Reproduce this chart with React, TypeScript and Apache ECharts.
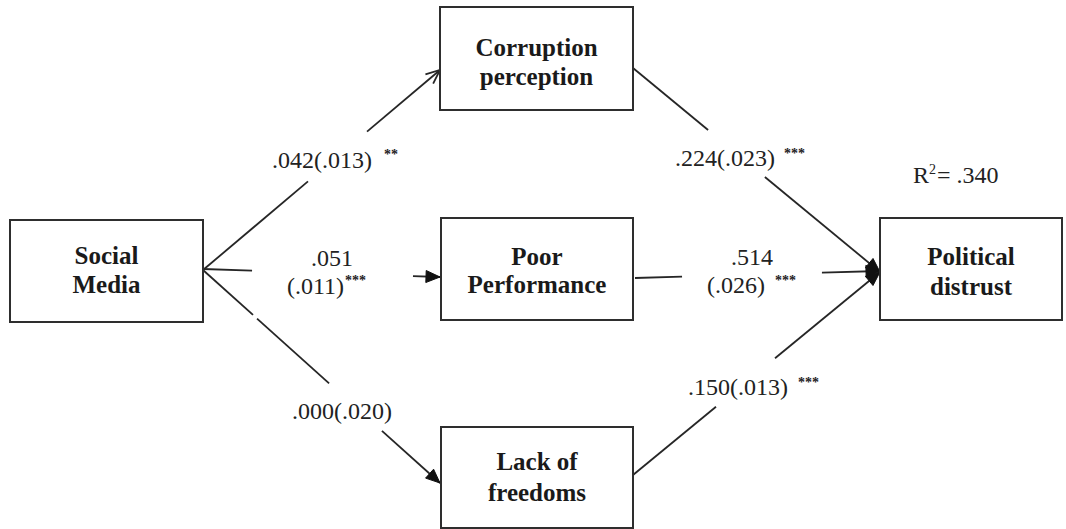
import React, { useEffect, useRef } from "react";
import * as echarts from "echarts";

// ---- Data ----
const nodeLabels: string[][] = [
  ["Social", "Media"],
  ["Corruption", "perception"],
  ["Poor", "Performance"],
  ["Lack of", "freedoms"],
  ["Political", "distrust"],
];
// box corners [x0, y0, x1, y1] in diagram units
const nodeBoxes: number[][] = [
  [10, 220, 203, 322],
  [440, 7, 633, 110],
  [441, 218, 633, 320],
  [441, 427, 633, 528],
  [880, 218, 1062, 320],
];
const nodeLineY: number[][] = [
  [255, 284],
  [47, 76],
  [256, 284],
  [461, 492],
  [256, 286],
];

// edges [fromX, fromY, toX, toY]
const edges: number[][] = [
  [203, 270, 440, 70],
  [203, 269, 440, 277],
  [203, 270, 440, 483],
  [633, 68, 880, 272],
  [635, 278, 880, 271],
  [633, 475, 880, 272],
];
const edgeGaps: number[][][] = [
  [[0.443, 0.692]],
  [[0.207, 0.886]],
  [[0.211, 0.228], [0.532, 0.755]],
  [[0.304, 0.534]],
  [[0.192, 0.763]],
  [[0.336, 0.575]],
];
const edgeHeads: string[] = ["open", "filled", "filled", "filled", "filled", "filled"];

// path coefficient labels
const coefTexts: string[] = [".042(.013)", ".051", "(.011)", ".000(.020)", ".224(.023)", ".514", "(.026)", ".150(.013)"];
const coefPos: number[][] = [
  [272, 160], [332, 258], [287, 286], [292, 411], [675, 158], [752, 257], [707, 285], [688, 387],
];
const coefAlign: string[] = ["left", "center", "left", "left", "left", "center", "left", "left"];
const starTexts: string[] = ["**", "***", "***", "***", "***"];
const starPos: number[][] = [[384, 154], [345, 280], [784, 153], [775, 280], [798, 382]];

const r2Texts: string[] = ["R", "2", "= .340"];
const r2Pos: number[][] = [[913, 175], [929, 169], [937, 175]];
const r2Sizes: number[] = [24, 14, 24];

const INK = "#262626";
const SERIF = "'Liberation Serif', 'Times New Roman', serif";

export default function App() {
  const ref = useRef<HTMLDivElement>(null);
  useEffect(() => {
    if (!ref.current) return;
    const chart = echarts.init(ref.current, undefined, { renderer: "svg" });

    const option: any = {
      animation: false,
      backgroundColor: "#ffffff",
      grid: { left: 0, right: 0, top: 0, bottom: 0 },
      xAxis: { type: "value", min: 0, max: 1066, show: false },
      yAxis: { type: "value", min: 0, max: 529, inverse: true, show: false },
      series: [
        {
          type: "custom",
          name: "edges",
          z: 1,
          encode: { x: [0, 2], y: [1, 3] },
          data: edges,
          renderItem: (params: any, api: any) => {
            const i = params.dataIndex;
            const a = api.coord([api.value(0), api.value(1)]);
            const b = api.coord([api.value(2), api.value(3)]);
            const dx = b[0] - a[0];
            const dy = b[1] - a[1];
            const len = Math.sqrt(dx * dx + dy * dy);
            const ux = dx / len, uy = dy / len;
            const nx = -uy, ny = ux;
            const pts = [0];
            edgeGaps[i].forEach((g) => { pts.push(g[0], g[1]); });
            pts.push(1);
            const children: any[] = [];
            for (let k = 0; k < pts.length; k += 2) {
              children.push({
                type: "line",
                shape: {
                  x1: a[0] + dx * pts[k], y1: a[1] + dy * pts[k],
                  x2: a[0] + dx * pts[k + 1], y2: a[1] + dy * pts[k + 1],
                },
                style: { stroke: INK, lineWidth: 1.8 },
              });
            }
            const L = 14, W = 6;
            const bx = b[0] - ux * L, by = b[1] - uy * L;
            if (edgeHeads[i] === "open") {
              children.push({
                type: "polyline",
                shape: { points: [[bx + nx * W, by + ny * W], [b[0], b[1]], [bx - nx * W, by - ny * W]] },
                style: { stroke: INK, lineWidth: 1.8, fill: "none" },
              });
            } else {
              children.push({
                type: "polygon",
                shape: { points: [[b[0], b[1]], [bx + nx * W, by + ny * W], [bx - nx * W, by - ny * W]] },
                style: { fill: "#111", stroke: "#111", lineWidth: 1 },
              });
            }
            return { type: "group", children };
          },
        },
        {
          type: "custom",
          name: "nodes",
          z: 2,
          encode: { x: [0, 2], y: [1, 3] },
          data: nodeBoxes,
          renderItem: (params: any, api: any) => {
            const i = params.dataIndex;
            const p0 = api.coord([api.value(0), api.value(1)]);
            const p1 = api.coord([api.value(2), api.value(3)]);
            const cx = (p0[0] + p1[0]) / 2;
            const children: any[] = [
              {
                type: "rect",
                shape: { x: p0[0], y: p0[1], width: p1[0] - p0[0], height: p1[1] - p0[1] },
                style: { fill: "#ffffff", stroke: "#2e2e2e", lineWidth: 2 },
              },
            ];
            nodeLabels[i].forEach((t, k) => {
              const py = api.coord([0, nodeLineY[i][k]])[1];
              children.push({
                type: "text",
                x: cx,
                y: py,
                style: {
                  text: t,
                  fontFamily: SERIF,
                  fontWeight: "bold",
                  fontSize: 25,
                  fill: "#1a1a1a",
                  align: "center",
                  verticalAlign: "middle",
                },
              });
            });
            return { type: "group", children };
          },
        },
        {
          type: "custom",
          name: "coefficients",
          z: 3,
          encode: { x: 0, y: 1 },
          data: coefPos,
          renderItem: (params: any, api: any) => {
            const i = params.dataIndex;
            const p = api.coord([api.value(0), api.value(1)]);
            return {
              type: "text",
              x: p[0],
              y: p[1],
              style: {
                text: coefTexts[i],
                fontFamily: SERIF,
                fontSize: 24,
                fill: "#222",
                align: coefAlign[i],
                verticalAlign: "middle",
              },
            };
          },
        },
        {
          type: "custom",
          name: "stars",
          z: 3,
          encode: { x: 0, y: 1 },
          data: starPos,
          renderItem: (params: any, api: any) => {
            const i = params.dataIndex;
            const p = api.coord([api.value(0), api.value(1)]);
            return {
              type: "text",
              x: p[0],
              y: p[1],
              style: {
                text: starTexts[i],
                fontFamily: SERIF,
                fontSize: 14,
                fontWeight: "bold",
                fill: "#222",
                align: "left",
                verticalAlign: "middle",
              },
            };
          },
        },
        {
          type: "custom",
          name: "r2",
          z: 3,
          encode: { x: 0, y: 1 },
          data: r2Pos,
          renderItem: (params: any, api: any) => {
            const i = params.dataIndex;
            const p = api.coord([api.value(0), api.value(1)]);
            return {
              type: "text",
              x: p[0],
              y: p[1],
              style: {
                text: r2Texts[i],
                fontFamily: SERIF,
                fontSize: r2Sizes[i],
                fill: "#222",
                align: "left",
                verticalAlign: "middle",
              },
            };
          },
        },
      ],
    };
    chart.setOption(option);
    return () => chart.dispose();
  }, []);
  return (
    <div
      ref={ref}
      style={{ position: "fixed", left: 0, top: 0, width: 1066, height: 529, background: "#fff" }}
    />
  );
}
